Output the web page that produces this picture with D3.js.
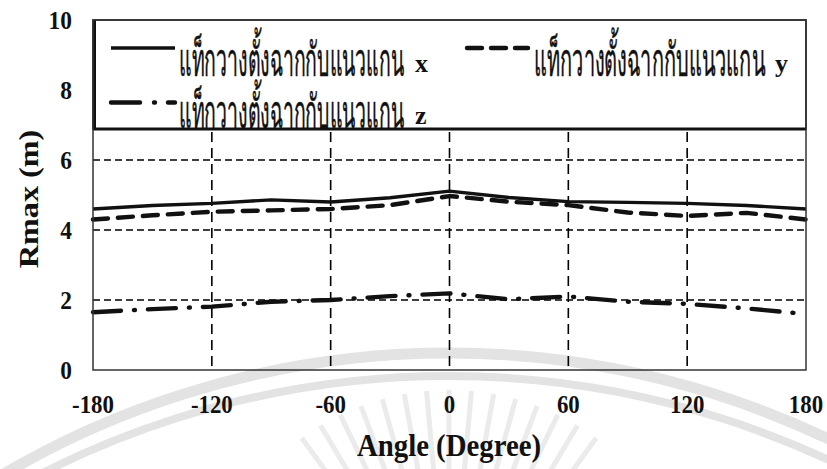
<!DOCTYPE html>
<html>
<head>
<meta charset="utf-8">
<script src="https://cdn.jsdelivr.net/npm/d3@7"></script>
<style>
  html, body { margin: 0; padding: 0; background: #fff; }
  svg { display: block; }
  .tick-label, .axis-title, .legend-axis { font-family: "Liberation Serif", "Times New Roman", serif; font-weight: bold; fill: #111; }
  .legend-text { font-family: "Liberation Serif", "Noto Sans", serif; fill: #111; stroke: #111; stroke-width: 0.5; }
</style>
</head>
<body>
<svg id="chart" width="827" height="469"></svg>
<script>
// Angles (degrees) at which Rmax was measured
const angles = [-180, -150, -120, -90, -60, -30, 0, 30, 60, 90, 120, 150, 180];

// Rmax (m) for each tag orientation
const rmaxX = [4.60, 4.70, 4.76, 4.86, 4.80, 4.92, 5.11, 4.93, 4.81, 4.79, 4.76, 4.70, 4.60];
const rmaxY = [4.30, 4.42, 4.52, 4.56, 4.60, 4.71, 4.97, 4.81, 4.71, 4.50, 4.40, 4.49, 4.30];
const rmaxZ = [1.65, 1.74, 1.81, 1.95, 2.00, 2.11, 2.19, 2.02, 2.10, 1.95, 1.89, 1.76, 1.60];

const xTicks = [-180, -120, -60, 0, 60, 120, 180];
const yTicks = [0, 2, 4, 6, 8, 10];

const seriesLabel = "แท็กวางตั้งฉากกับแนวแกน";
const seriesAxes = ["x", "y", "z"];

const svg = d3.select("#chart");
const plot = { left: 93, right: 806, top: 20, bottom: 370 };

const x = d3.scaleLinear().domain([-180, 180]).range([plot.left, plot.right]);
const y = d3.scaleLinear().domain([0, 10]).range([plot.bottom, plot.top]);

// faint background seal
const wm = svg.append("g").attr("fill", "none").attr("stroke", "#e3e3e3");
[[880, 353, 11], [900, 376, 8]].forEach(([r, peak, w]) => {
  const cy = peak + r;
  wm.append("path")
    .attr("d", d3.arc()({ innerRadius: r, outerRadius: r, startAngle: -0.6, endAngle: 0.6 }))
    .attr("transform", `translate(449,${cy})`)
    .attr("stroke-width", w);
});
d3.range(-7, 8).forEach(i => {
  const a = i * 0.09;
  const cx = 449, cy = 640;
  wm.append("line")
    .attr("x1", cx + Math.sin(a) * 170).attr("y1", cy - Math.cos(a) * 170)
    .attr("x2", cx + Math.sin(a) * 250).attr("y2", cy - Math.cos(a) * 250)
    .attr("stroke-width", 5).attr("stroke", "#ebebeb");
});

// grid lines
const grid = svg.append("g").attr("stroke", "#000").attr("stroke-width", 1.6);
yTicks.filter(v => v > 0 && v < 10).forEach(v => {
  grid.append("line").attr("x1", plot.left).attr("x2", plot.right).attr("y1", y(v)).attr("y2", y(v))
    .attr("stroke-dasharray", "7,4");
});
xTicks.filter(v => v > -180 && v < 180).forEach(v => {
  grid.append("line").attr("y1", plot.top).attr("y2", plot.bottom).attr("x1", x(v)).attr("x2", x(v))
    .attr("stroke-dasharray", "10,6");
});

// series lines
const line = d3.line().x((d, i) => x(angles[i])).y(d => y(d));
const styles = [
  { data: rmaxX, width: 3.4, dash: null },
  { data: rmaxY, width: 4.4, dash: "15,10" },
  { data: rmaxZ, width: 4.4, dash: "28,13,1,13" }
];
styles.forEach(s => {
  svg.append("path").datum(s.data)
    .attr("d", line)
    .attr("fill", "none")
    .attr("stroke", "#111")
    .attr("stroke-width", s.width)
    .attr("stroke-linejoin", "round")
    .attr("stroke-linecap", s.dash ? "round" : "butt")
    .attr("stroke-dasharray", s.dash);
});

// legend box
const legTop = plot.top, legBottom = 129;
svg.append("rect")
  .attr("x", plot.left).attr("y", legTop)
  .attr("width", plot.right - plot.left).attr("height", legBottom - legTop)
  .attr("fill", "#fff").attr("stroke", "#111").attr("stroke-width", 1.5);
svg.append("line").attr("x1", plot.left).attr("x2", plot.right)
  .attr("y1", legBottom).attr("y2", legBottom).attr("stroke", "#111").attr("stroke-width", 3);
svg.append("line").attr("x1", plot.left + 1.5).attr("x2", plot.left + 1.5)
  .attr("y1", legTop).attr("y2", legBottom).attr("stroke", "#111").attr("stroke-width", 3);

const legendItems = [
  { x0: 111, x1: 175, ly: 48, tx: 179, ty: 72, tw: 225, ax: 415, dash: null },
  { x0: 467, x1: 528, ly: 48, tx: 534, ty: 72, tw: 231, ax: 775, dash: "15,9" },
  { x0: 111, x1: 175, ly: 102.5, tx: 179, ty: 124, tw: 225, ax: 415, dash: "29,14,1,13,8,99" }
];
legendItems.forEach((it, i) => {
  svg.append("line")
    .attr("x1", it.x0).attr("x2", it.x1).attr("y1", it.ly).attr("y2", it.ly)
    .attr("stroke", "#111").attr("stroke-width", styles[i].width)
    .attr("stroke-linecap", it.dash ? "round" : "butt")
    .attr("stroke-dasharray", it.dash);
  svg.append("text").attr("class", "legend-text")
    .attr("x", it.tx).attr("y", it.ty + 4).attr("font-size", 46)
    .attr("textLength", it.tw).attr("lengthAdjust", "spacingAndGlyphs")
    .text(seriesLabel);
  svg.append("text").attr("class", "legend-axis")
    .attr("x", it.ax).attr("y", it.ty).attr("font-size", 26)
    .text(seriesAxes[i]);
});

// plot frame
svg.append("rect")
  .attr("x", plot.left).attr("y", plot.top)
  .attr("width", plot.right - plot.left).attr("height", plot.bottom - plot.top)
  .attr("fill", "none").attr("stroke", "#333").attr("stroke-width", 1.5);

// y tick labels
svg.append("g").selectAll("text").data(yTicks).join("text")
  .attr("class", "tick-label")
  .attr("transform", d => `translate(72,${y(d)}) scale(0.9,1)`)
  .attr("dy", "0.35em")
  .attr("text-anchor", "end").attr("font-size", 26)
  .text(d => d);

// x tick labels
svg.append("g").selectAll("text").data(xTicks).join("text")
  .attr("class", "tick-label")
  .attr("transform", d => `translate(${x(d)},404) scale(0.88,1)`)
  .attr("dy", "0.35em")
  .attr("text-anchor", "middle").attr("font-size", 26)
  .text(d => d);

// axis titles
svg.append("text").attr("class", "axis-title")
  .attr("transform", "translate(449,445) scale(0.9,1)")
  .attr("dy", "0.34em")
  .attr("text-anchor", "middle").attr("font-size", 32)
  .text("Angle (Degree)");
svg.append("text").attr("class", "axis-title")
  .attr("transform", "translate(28,199) rotate(-90) scale(1.04,0.9)")
  .attr("dy", "0.34em")
  .attr("text-anchor", "middle").attr("font-size", 31)
  .text("Rmax (m)");
</script>
</body>
</html>
